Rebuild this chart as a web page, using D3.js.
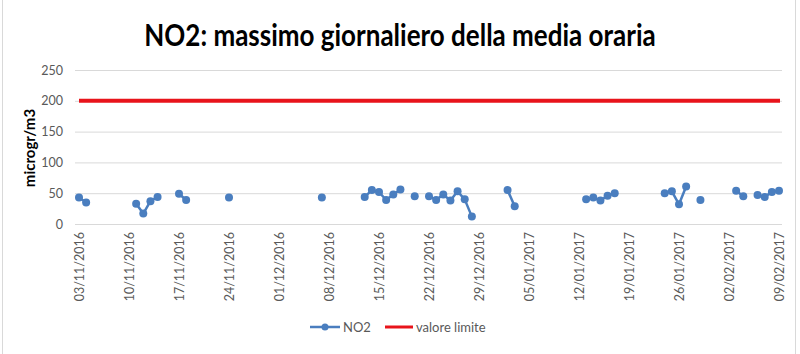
<!DOCTYPE html>
<html>
<head>
<meta charset="utf-8">
<script src="https://cdn.jsdelivr.net/npm/d3@7"></script>
<style>
  body { margin: 0; background: #fff; }
  svg { display: block; font-family: Lato, "Open Sans", sans-serif; }
</style>
</head>
<body>
<script>
let w = 800;
let h = 354;

// daily max of hourly NO2 (microgr/m3)
var dates = [
    "2016-11-03", "2016-11-04",
    "2016-11-11", "2016-11-12", "2016-11-13", "2016-11-14",
    "2016-11-17", "2016-11-18",
    "2016-11-24",
    "2016-12-07",
    "2016-12-13", "2016-12-14", "2016-12-15", "2016-12-16", "2016-12-17", "2016-12-18",
    "2016-12-20",
    "2016-12-22", "2016-12-23", "2016-12-24", "2016-12-25", "2016-12-26", "2016-12-27", "2016-12-28",
    "2017-01-02", "2017-01-03",
    "2017-01-13", "2017-01-14", "2017-01-15", "2017-01-16", "2017-01-17",
    "2017-01-24", "2017-01-25", "2017-01-26", "2017-01-27",
    "2017-01-29",
    "2017-02-03", "2017-02-04",
    "2017-02-06", "2017-02-07", "2017-02-08", "2017-02-09"
];
var no2 = [
    43, 35,
    33, 17, 37, 44,
    49, 39,
    43,
    43,
    44, 55, 52, 39, 48, 56,
    45,
    45, 39, 48, 38, 53, 40, 12,
    55, 29,
    40, 43, 38, 46, 50,
    50, 53, 32, 61,
    39,
    54, 45,
    47, 44, 52, 54
];
var limitValue = 200;

var yTicks = [0, 50, 100, 150, 200, 250];
var xTickLabels = ["03/11/2016", "10/11/2016", "17/11/2016", "24/11/2016", "01/12/2016",
    "08/12/2016", "15/12/2016", "22/12/2016", "29/12/2016", "05/01/2017", "12/01/2017",
    "19/01/2017", "26/01/2017", "02/02/2017", "09/02/2017"];

let parseIso = d3.utcParse("%Y-%m-%d");
let parseLabel = d3.utcParse("%d/%m/%Y");
let fmtLabel = d3.utcFormat("%d/%m/%Y");

var data = dates.map(function(d, i) {
    return {date: parseIso(d), value: no2[i]};
});

// split into runs of consecutive days (Excel leaves gaps between them)
var runs = [];
data.forEach(function(d, i) {
    if (i > 0 && d3.utcDay.count(data[i - 1].date, d.date) === 1) {
        runs[runs.length - 1].push(d);
    } else {
        runs.push([d]);
    }
});

let tickDates = xTickLabels.map(parseLabel);

let gridLeft = 75;
let gridRight = 782;

let xScale = d3.scaleUtc()
    .domain([tickDates[0], tickDates[tickDates.length - 1]])
    .range([79, 779]);

let yScale = d3.scaleLinear()
    .domain([0, 250])
    .range([224, 70]);

let svg = d3.select("body").append("svg").attr("width", w).attr("height", h);

// chart frame (left / right edges)
svg.append("line").attr("x1", 2.5).attr("x2", 2.5).attr("y1", 0).attr("y2", h)
    .style("stroke", "#d9d9d9");
svg.append("line").attr("x1", 795.5).attr("x2", 795.5).attr("y1", 0).attr("y2", h)
    .style("stroke", "#d9d9d9");

// title (reference glyphs are a bit taller than wide)
svg.append("text")
    .text("NO2: massimo giornaliero della media oraria")
    .attr("transform", "translate(400,46) scale(1,1.15)")
    .style("font-weight", "bold")
    .style("font-size", "26px")
    .style("fill", "#000")
    .style("text-anchor", "middle");

// y gridlines + labels
let yAxis = d3.axisLeft(yScale)
    .tickValues(yTicks)
    .tickSizeInner(-(gridRight - gridLeft))
    .tickSizeOuter(0)
    .tickPadding(12);

let gy = svg.append("g")
    .attr("transform", "translate(" + gridLeft + ",0)")
    .call(yAxis);
gy.select(".domain").remove();
gy.selectAll(".tick line").style("stroke", "#d9d9d9").style("stroke-width", 1);
gy.selectAll(".tick text")
    .style("fill", "#595959")
    .style("font-size", "12.5px")
    .style("font-family", "Lato, sans-serif");

// y axis title
svg.append("text")
    .text("microgr/m3")
    .attr("transform", "translate(35,148) rotate(-90)")
    .style("text-anchor", "middle")
    .style("font-weight", "bold")
    .style("font-size", "15px")
    .style("fill", "#000");

// x axis labels (date axis, weekly)
let xAxis = d3.axisBottom(xScale)
    .tickValues(tickDates)
    .tickFormat(fmtLabel)
    .tickSize(0)
    .tickPadding(0);

let gx = svg.append("g")
    .attr("transform", "translate(0,224)")
    .call(xAxis);
gx.select(".domain").remove();
gx.selectAll(".tick text")
    .attr("transform", "translate(0,8) rotate(-90)")
    .attr("x", 0)
    .attr("y", 0)
    .attr("dy", "0.35em")
    .style("text-anchor", "end")
    .style("fill", "#595959")
    .style("font-size", "12.5px")
    .style("font-family", "Lato, sans-serif");

// limit line
svg.append("line")
    .attr("x1", xScale(tickDates[0]))
    .attr("x2", xScale(tickDates[tickDates.length - 1]) + 1)
    .attr("y1", yScale(limitValue))
    .attr("y2", yScale(limitValue))
    .style("stroke", "#e8141b")
    .style("stroke-width", 4);

// NO2 series
let blue = "#4a7ebf";
let line = d3.line()
    .x(function(d) { return xScale(d.date); })
    .y(function(d) { return yScale(d.value); });

svg.selectAll("path.run")
    .data(runs)
    .enter()
    .append("path")
    .attr("class", "run")
    .attr("d", line)
    .style("fill", "none")
    .style("stroke", blue)
    .style("stroke-width", 2.5)
    .style("stroke-linejoin", "round");

svg.selectAll("circle.pt")
    .data(data)
    .enter()
    .append("circle")
    .attr("class", "pt")
    .attr("cx", function(d) { return xScale(d.date); })
    .attr("cy", function(d) { return yScale(d.value); })
    .attr("r", 4)
    .style("fill", blue);

// legend
let ly = 327;
svg.append("line").attr("x1", 310).attr("x2", 340).attr("y1", ly).attr("y2", ly)
    .style("stroke", blue).style("stroke-width", 2.5);
svg.append("circle").attr("cx", 325).attr("cy", ly).attr("r", 3.5).style("fill", blue);
svg.append("text").text("NO2")
    .attr("x", 343).attr("y", ly).attr("dy", "0.35em")
    .style("font-size", "13px").style("fill", "#595959");

svg.append("line").attr("x1", 385).attr("x2", 413).attr("y1", ly).attr("y2", ly)
    .style("stroke", "#e8141b").style("stroke-width", 3);
svg.append("text").text("valore limite")
    .attr("x", 416).attr("y", ly).attr("dy", "0.35em")
    .style("font-size", "13px").style("fill", "#595959");
</script>
</body>
</html>
